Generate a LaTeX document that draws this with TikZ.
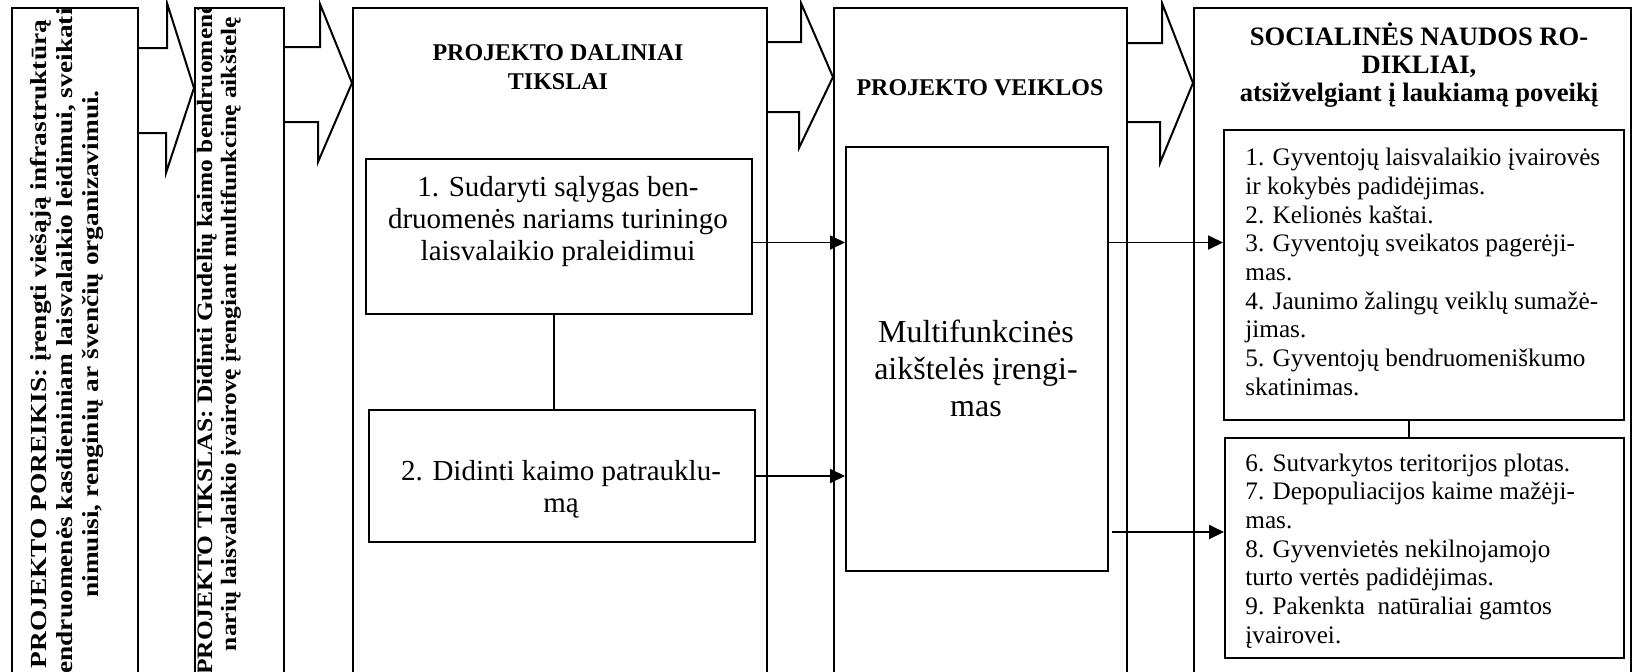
\documentclass[tikz,border=0pt]{standalone}
\usepackage{fontspec}
\setmainfont{Liberation Serif}
\usetikzlibrary{arrows.meta}

\begin{document}
\begin{tikzpicture}[x=0.5pt,y=-0.5pt,
    box/.style={draw,line width=1pt,anchor=north west,inner sep=0pt},
    sz/.style 2 args={minimum width=#1*0.5pt,minimum height=#2*0.5pt},
    head/.style={font=\bfseries\fontsize{12pt}{14.5pt}\selectfont,align=center,inner sep=0pt},
    side/.style={rotate=90,align=center,inner sep=0pt},
    body/.style={font=\fontsize{14.5pt}{16pt}\selectfont,align=center,inner sep=0pt},
    list/.style={font=\fontsize{12.6pt}{14.35pt}\selectfont,align=left,anchor=west,inner sep=0pt},
    conn/.style={line width=0.9pt,-{Triangle[length=7.5pt,width=7pt]}},
    blockarrow/.style={line width=1pt,line join=miter}]
\useasboundingbox (0,0) rectangle (1633,671);
\fill[white] (0,0) rectangle (1633,671);
\clip (0,0) rectangle (1633,671);

% columns
\node[box,sz={126}{693}] (p) at (11,7) {};
\node[box,sz={89}{693}] (t) at (194,7) {};
\node[box,sz={414}{693}] (d) at (352,7) {};
\node[box,sz={293}{693}] (v) at (833,7) {};
\node[box,sz={437}{693}] (s) at (1193,7) {};

% rotated texts, cut at the box edge
\begin{scope}
\clip (p.north west) rectangle (p.south east);
\node[side,xscale=1.19,font=\bfseries\fontsize{11.5pt}{13pt}\selectfont] (pt) at (67,344)
  {PROJEKTO POREIKIS: įrengti viešąją infrastruktūrą\\
   bendruomenės kasdieniniam laisvalaikio leidimui, sveikati-\\
   nimuisi, renginių ar švenčių organizavimui.};
\end{scope}
\begin{scope}
\clip (t.north west) rectangle (t.south east);
\node[side,xscale=1.156,font=\bfseries\fontsize{11pt}{12pt}\selectfont] (tt) at (219,334)
  {PROJEKTO TIKSLAS: Didinti Gudelių kaimo bendruomenės\\
   narių laisvalaikio įvairovę įrengiant multifunkcinę aikštelę};
\end{scope}

% headers
\node[head] (dh) at (558,67) {PROJEKTO DALINIAI\\TIKSLAI};
\node[head] (vh) at (980,88) {PROJEKTO VEIKLOS};
\node[head,font=\bfseries\fontsize{13.3pt}{14pt}\selectfont] (sh) at (1419,65)
  {SOCIALINĖS NAUDOS RO-\\DIKLIAI,\\atsižvelgiant į laukiamą poveikį};

% inner boxes
\node[box,sz={386}{155}] (a1) at (365,158) {};
\node[body] (a1t) at (558,222) {1. Sudaryti sąlygas ben-\\druomenės nariams turiningo\\laisvalaikio praleidimui};
\node[box,sz={386}{132}] (a2) at (368,409) {};
\node[body] (a2t) at (561,489) {2. Didinti kaimo patrauklu-\\mą};
\node[box,sz={262}{424}] (act) at (845,146) {};
\node[body,font=\fontsize{16pt}{18.5pt}\selectfont] (actt) at (976,368) {Multifunkcinės\\aikštelės įrengi-\\mas};
\node[box,sz={400}{290}] (b1) at (1223,129) {};
\node[list] (b1t) at (1245,272) {1. Gyventojų laisvalaikio įvairovės\\ir kokybės padidėjimas.\\2. Kelionės kaštai.\\3. Gyventojų sveikatos pagerėji-\\mas.\\4. Jaunimo žalingų veiklų sumažė-\\jimas.\\5. Gyventojų bendruomeniškumo\\skatinimas.};
\node[box,sz={399}{220}] (b2) at (1224,437) {};
\node[list] (b2t) at (1245,551) {6. Sutvarkytos teritorijos plotas.\\7. Depopuliacijos kaime mažėji-\\mas.\\8. Gyvenvietės nekilnojamojo\\turto vertės padidėjimas.\\9. Pakenkta~ natūraliai gamtos\\įvairovei.};

% block arrows
\draw[blockarrow] (p.east |- 0,48) -| ++(28,-45) -- (t.west |- 0,88) -- ++(-28,85) -- ++(0,-40) -- ++(-28,0);
\draw[blockarrow] (t.east |- 0,47) -| ++(35,-43) -- (d.west |- 0,83) -- ++(-34,79) -- ++(0,-40) -- ++(-35,0);
\draw[blockarrow] (d.east |- 0,42) -| ++(33,-39) -- (v.west |- 0,77) -- ++(-34,71) -- ++(0,-36) -- ++(-33,0);
\draw[blockarrow] (v.east |- 0,43) -| ++(34,-40) -- (s.west |- 0,83) -- ++(-33,80) -- ++(0,-41) -- ++(-34,0);

% connectors
\coordinate (r1) at ([yshift=-3pt]a1.east);
\coordinate (r2) at (1112,532);
\draw[conn] (r1) -- (r1 -| act.west);
\draw[conn] (a2.east) -- (a2.east -| act.west);
\draw[conn] (r1 -| act.east) -- (r1 -| b1.west);
\draw[conn] (r2) -- (r2 -| b2.west);
\draw[line width=0.9pt] ([xshift=-2.5pt]a1.south) -- ([xshift=-2.5pt]a1.south |- a2.north);
\draw[line width=0.9pt] ([xshift=-7.5pt]b1.south) -- ([xshift=-7.5pt]b1.south |- b2.north);
\end{tikzpicture}
\end{document}
